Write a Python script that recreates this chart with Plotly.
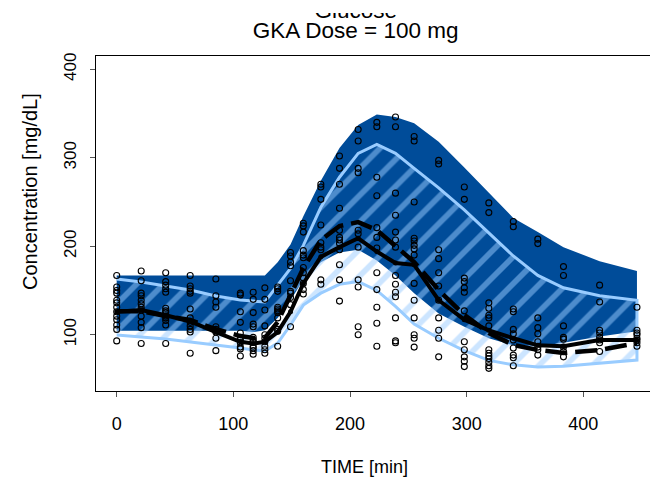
import plotly.graph_objects as go

# ---------------- data ----------------
time_bins = [0, 21, 42, 63, 85, 106, 117, 127, 138, 149, 160, 175, 191, 207,
             223, 239, 255, 276, 298, 319, 340, 361, 383, 414, 446]

# dark blue prediction band (upper / lower edge)
band_dark_hi = [167, 167, 167, 167, 167, 167, 167, 167, 182, 202, 234, 274, 311,
                337, 349, 346, 339, 318, 289, 260, 232, 216, 199, 183, 172]
band_dark_lo = [104.5, 104.5, 104.5, 104.5, 104.5, 104.5, 103, 105, 119, 139, 162,
                182, 193, 196, 184, 167, 147, 124, 109, 96, 88, 87, 91, 98, 104]

# hatched (light blue) band
band_hatch_hi = [163, 159.5, 155, 150.5, 143.7, 139.2, 138, 137, 156, 175, 201, 244,
                 278, 305, 315, 305, 288, 266, 241, 215, 189, 167, 153, 144, 139]
band_hatch_lo = [99.7, 97.4, 95.1, 91.8, 88.4, 85, 82.8, 81.6, 90.6, 111, 133.5, 147,
                 157, 160, 150, 132, 112, 96, 82, 71, 66, 63.5, 64.5, 68, 71.4]

# observed median (solid) and simulated median (dashed)
median_obs = [126, 128, 122, 115, 103, 92, 90, 92, 103, 126, 158, 188, 199, 209,
              194, 181, 179, 139, 117, 105, 96, 88, 87, 94, 94]
median_sim = [126.6, 126.6, 121, 116.6, 106.4, 98.5, 96.3, 96.3, 114.4, 143.7, 175.3,
              207, 222.8, 227.3, 218.3, 200.2, 182.1, 150.5, 122.3, 102, 88.4, 82.8,
              79.4, 82.8, 90.6]

# observations per time point
obs_values = [
    [167, 154, 150, 147, 139, 136, 131, 126, 121, 117, 111, 106, 93],
    [172, 161, 147, 144, 139, 135, 131, 128, 121, 114, 108, 90],
    [170, 160, 156, 152, 148, 130, 127, 125, 121, 119, 116, 111, 90],
    [167, 155, 152, 149, 147, 129, 119, 114, 110, 106, 103, 79],
    [163, 144, 137, 131, 109, 106, 103, 96, 82],
    [147, 145, 126, 114, 102, 97, 94, 91, 86, 84, 76],
    [148, 140, 125, 112, 109, 97, 94, 92, 87, 85, 82, 78],
    [153, 140, 128, 110, 100, 96, 92, 87, 83, 79],
    [154, 152, 149, 131, 129, 127, 125, 119, 106, 104, 87],
    [193, 189, 182, 178, 161, 149, 147, 142, 134, 109],
    [226, 223, 216, 195, 190, 187, 176, 170, 164, 158, 151, 146],
    [270, 267, 253, 224, 204, 199, 196, 162, 157],
    [302, 288, 270, 243, 218, 210, 207, 203, 196, 179, 162, 138],
    [332, 319, 288, 283, 218, 214, 199, 162, 154, 109, 100],
    [340, 335, 278, 257, 221, 210, 198, 170, 151, 131, 113, 87],
    [346, 335, 260, 235, 216, 207, 199, 167, 157, 148, 143, 119, 93, 91],
    [324, 319, 250, 209, 206, 201, 197, 190, 158, 139, 119, 100, 96, 86],
    [297, 293, 196, 186, 170, 155, 139, 119, 105, 96, 75],
    [267, 253, 164, 160, 153, 148, 127, 92, 83, 75, 70, 64],
    [249, 238, 136, 130, 122, 119, 110, 83, 79, 76, 73, 69, 65, 62],
    [228, 222, 129, 126, 106, 101, 94, 85, 77, 74, 65],
    [208, 203, 119, 108, 101, 92, 86, 83, 77],
    [177, 167, 110, 97, 95, 86, 81, 75],
    [156, 137, 105, 102, 97, 94, 91, 81],
    [131, 105, 102, 100, 96, 94, 91, 87],
]

title_lines = ["Glucose", "GKA Dose = 100 mg"]
x_ticks = [0, 100, 200, 300, 400]
y_ticks = [100, 200, 300, 400]
x_title = "TIME [min]"
y_title = "Concentration [mg/dL]"

# ---------------- styling / layout ----------------
W, H = 650, 487
ML, MR, MT, MB = 96, 0, 13, 96
PW, PH = W - ML - MR, H - MT - MB
PLOT_TOP_PX = 56
main_top = (H - MB - PLOT_TOP_PX) / PH
Y_RANGE = [36.4, 415.0]

DARK = "#004C99"
LIGHT = "#99CCFF"
FONT = "Liberation Sans, Arial, sans-serif"


def px_x(p):
    return (p - ML) / PW


def px_y(p):
    return (H - MB - p) / PH


fig = go.Figure()

# dark band
fig.add_trace(go.Scatter(
    x=time_bins + time_bins[::-1],
    y=band_dark_hi + band_dark_lo[::-1],
    fill="toself", fillcolor=DARK, mode="lines",
    line=dict(width=0, color=DARK), hoverinfo="skip"))

# hatched band
fig.add_trace(go.Scatter(
    x=time_bins + time_bins[::-1],
    y=band_hatch_hi + band_hatch_lo[::-1],
    fill="toself", fillcolor="rgba(0,0,0,0)", mode="lines",
    fillpattern=dict(shape="/", fgcolor=LIGHT, bgcolor="rgba(0,0,0,0)",
                     size=19, solidity=0.3),
    line=dict(width=3, color=LIGHT), hoverinfo="skip"))

# observations
ox, oy = [], []
for t, vals in zip(time_bins, obs_values):
    ox += [t] * len(vals)
    oy += vals
fig.add_trace(go.Scatter(
    x=ox, y=oy, mode="markers",
    marker=dict(symbol="circle-open", size=6, color="black",
                line=dict(width=1.1, color="black"))))

# simulated median (dashed)
fig.add_trace(go.Scatter(
    x=time_bins, y=median_sim, mode="lines",
    line=dict(color="black", width=4.5, dash="22px,8px")))

# observed median (solid)
fig.add_trace(go.Scatter(
    x=time_bins, y=median_obs, mode="lines+markers",
    line=dict(color="black", width=4),
    marker=dict(size=5, color="black")))

# title text, clipped at the top through an auxiliary subplot
fig.add_trace(go.Scatter(
    x=[355.7, 355.7], y=[12.3, 32.3], mode="text", text=title_lines,
    textfont=dict(size=22.5, color="black", family=FONT),
    textposition="middle center", cliponaxis=True,
    xaxis="x2", yaxis="y2", hoverinfo="skip"))

x0 = -17.75
x1 = (W - 116.7) / 1.1665
fig.update_layout(
    width=W, height=H,
    margin=dict(l=ML, r=MR, t=MT, b=MB, pad=0, autoexpand=False),
    paper_bgcolor="white", plot_bgcolor="white",
    showlegend=False,
    font=dict(family=FONT, color="black"),
    xaxis=dict(range=[x0, x1], tickvals=x_ticks, ticks="outside", ticklen=5,
               tickcolor="#555", tickwidth=1, showline=True, linecolor="black",
               linewidth=1, mirror=True, showgrid=False, zeroline=False,
               tickfont=dict(size=18), ticklabelstandoff=11, anchor="y"),
    # main y axis: frame line + short visible ticks, no labels
    yaxis=dict(domain=[0, main_top], range=Y_RANGE, tickvals=y_ticks,
               ticks="outside", ticklen=5, tickcolor="#555", tickwidth=1,
               showline=True, linecolor="black", linewidth=1, mirror=False,
               showgrid=False, zeroline=False, showticklabels=False,
               anchor="x"),
    # overlay y axis: only the rotated tick labels, pushed out by invisible ticks
    yaxis3=dict(domain=[0, main_top], range=Y_RANGE, tickvals=y_ticks,
                overlaying="y", anchor="x", side="left",
                ticks="outside", ticklen=12, tickcolor="rgba(0,0,0,0)",
                showline=False, showgrid=False, zeroline=False,
                tickangle=-90, tickfont=dict(size=17)),
    xaxis2=dict(domain=[0, 1], range=[ML, W], visible=False, anchor="y2"),
    yaxis2=dict(domain=[main_top, 1], range=[PLOT_TOP_PX, MT], visible=False,
                anchor="x2"),
    annotations=[
        dict(text=x_title, x=px_x(364), y=px_y(467), xref="paper", yref="paper",
             xanchor="center", yanchor="middle", showarrow=False,
             font=dict(size=18)),
        dict(text=y_title, x=px_x(30), y=px_y(192), xref="paper", yref="paper",
             xanchor="center", yanchor="middle", showarrow=False, textangle=-90,
             font=dict(size=20)),
    ],
)

# an invisible trace on the overlay axis so that it is drawn
fig.add_trace(go.Scatter(x=[time_bins[0]], y=[Y_RANGE[0]], yaxis="y3",
                         mode="markers", marker=dict(opacity=0),
                         hoverinfo="skip"))

fig.write_html("out.html")
